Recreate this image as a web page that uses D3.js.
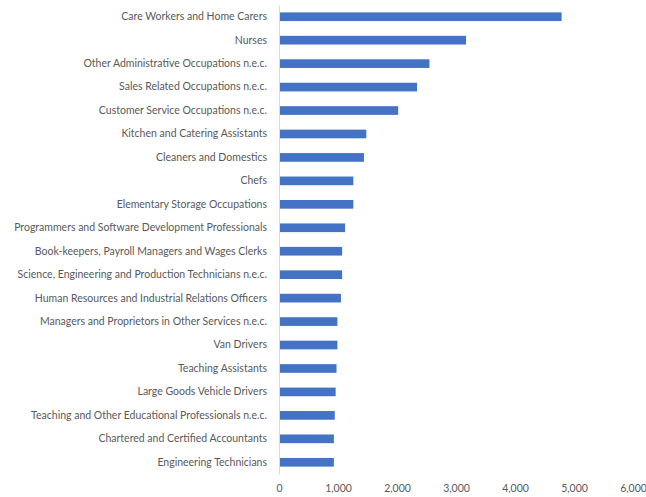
<!DOCTYPE html>
<html>
<head>
<meta charset="utf-8">
<script src="https://cdn.jsdelivr.net/npm/d3@7"></script>
<style>
  html, body { margin: 0; padding: 0; background: #fff; }
  svg { display: block; }
  .lbl text { font-family: Lato, "Open Sans", sans-serif; fill: #595959; }
</style>
</head>
<body>
<svg id="chart" width="646" height="497"></svg>
<script>
// Occupations, ordered from the largest count down
const occupations = [
  "Care Workers and Home Carers",
  "Nurses",
  "Other Administrative Occupations n.e.c.",
  "Sales Related Occupations n.e.c.",
  "Customer Service Occupations n.e.c.",
  "Kitchen and Catering Assistants",
  "Cleaners and Domestics",
  "Chefs",
  "Elementary Storage Occupations",
  "Programmers and Software Development Professionals",
  "Book-keepers, Payroll Managers and Wages Clerks",
  "Science, Engineering and Production Technicians n.e.c.",
  "Human Resources and Industrial Relations Officers",
  "Managers and Proprietors in Other Services n.e.c.",
  "Van Drivers",
  "Teaching Assistants",
  "Large Goods Vehicle Drivers",
  "Teaching and Other Educational Professionals n.e.c.",
  "Chartered and Certified Accountants",
  "Engineering Technicians"
];
const counts = [4790, 3170, 2550, 2340, 2020, 1480, 1440, 1260, 1260, 1120,
                1070, 1070, 1050, 990, 990, 975, 960, 945, 930, 930];
const xTicks = [0, 1000, 2000, 3000, 4000, 5000, 6000];

const svg = d3.select("#chart");
const plotLeft = 279, plotRight = 633, plotTop = 5, plotBottom = 474;

const x = d3.scaleLinear().domain([0, 6000]).range([plotLeft, plotRight]);
const y = d3.scaleBand().domain(occupations).range([plotTop, plotBottom]).paddingInner(0.63).paddingOuter(0.315);

// bars
svg.append("g").selectAll("rect")
  .data(occupations)
  .join("rect")
  .attr("x", x(0))
  .attr("y", d => y(d))
  .attr("width", (d, i) => x(counts[i]) - x(0))
  .attr("height", y.bandwidth())
  .attr("fill", "#4472C4");

// category axis
const yAxis = svg.append("g")
  .attr("class", "lbl")
  .attr("transform", `translate(${plotLeft},0)`)
  .call(d3.axisLeft(y).tickSize(0).tickPadding(12));
yAxis.select(".domain").attr("stroke", "#d9d9d9").attr("stroke-width", 1);
yAxis.selectAll("text").attr("font-size", 10.5);

// value axis labels
const xAxis = svg.append("g")
  .attr("class", "lbl")
  .attr("transform", `translate(0,${plotBottom})`)
  .call(d3.axisBottom(x).tickValues(xTicks).tickFormat(d3.format(",")).tickSize(0).tickPadding(11));
xAxis.select(".domain").remove();
xAxis.selectAll("text").attr("font-size", 10.5);
</script>
</body>
</html>
